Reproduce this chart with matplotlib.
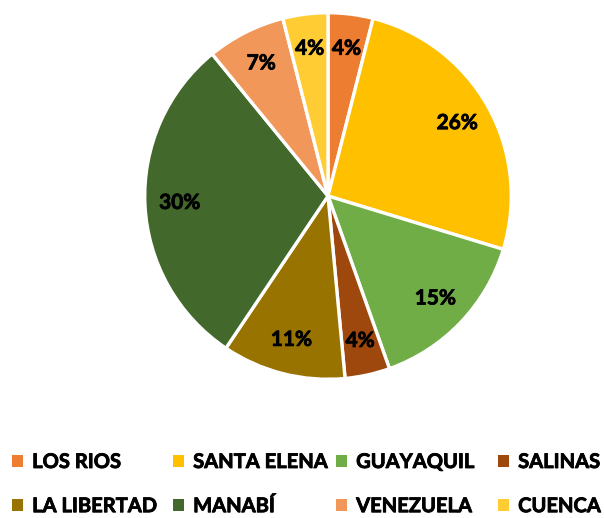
import matplotlib
matplotlib.use('Agg')
import matplotlib.pyplot as plt
import matplotlib.patheffects as pe
from matplotlib.patches import Patch

labels = ['LOS RIOS', 'SANTA ELENA', 'GUAYAQUIL', 'SALINAS',
          'LA LIBERTAD', 'MANABÍ', 'VENEZUELA', 'CUENCA']
values = [4, 26, 15, 4, 11, 30, 7, 4]
colors = ['#ED7D31', '#FFC000', '#70AD47', '#9E480E',
          '#997300', '#43682B', '#F1975A', '#FFCD33']

plt.rcParams['font.family'] = ['Lato', 'DejaVu Sans']
heavy = [pe.withStroke(linewidth=0.6, foreground='black')]

W, H = 604, 518
fig = plt.figure(figsize=(W / 100, H / 100), dpi=100)

cx, cy, r = 328, 196, 186
ax = fig.add_axes([(cx - r) / W, (H - cy - r) / H, 2 * r / W, 2 * r / H])
wedges, texts, autotexts = ax.pie(
    values, colors=colors, startangle=90, counterclock=False,
    autopct='%1.0f%%', pctdistance=0.81, radius=1,
    wedgeprops=dict(edgecolor='white', linewidth=2.4),
    textprops=dict(fontsize=15, fontweight='bold', color='black'))
for t in autotexts:
    t.set_path_effects(heavy)
ax.set_xlim(-1.015, 1.015)
ax.set_ylim(-1.015, 1.015)
ax.set_aspect('equal')
ax.axis('off')

# Excel-style legend: 4 equal-width columns, 2 rows
col_x = [12, 173, 336, 498]
for c in range(4):
    idx = [c, c + 4]
    leg = fig.legend([Patch(facecolor=colors[i], edgecolor='none') for i in idx],
                     [labels[i] for i in idx], loc='upper left',
                     bbox_to_anchor=(col_x[c] / W, 1 - 452 / H),
                     frameon=False, prop=dict(size=14.5, weight='bold'),
                     borderpad=0, borderaxespad=0,
                     handlelength=0.55, handleheight=0.55, handletextpad=0.45,
                     labelspacing=1.2)
    for t in leg.get_texts():
        t.set_path_effects(heavy)

fig.savefig('out.png', dpi=100, facecolor='white')
